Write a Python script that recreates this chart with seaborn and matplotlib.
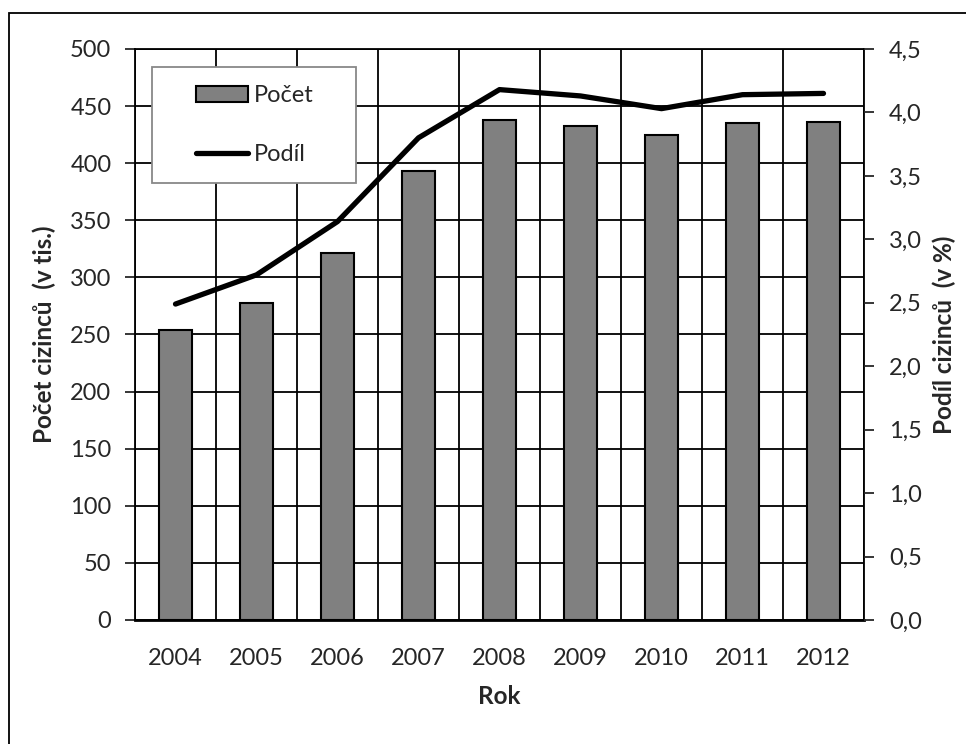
import numpy as np
import pandas as pd
import matplotlib
matplotlib.use("Agg")
import matplotlib.pyplot as plt
from matplotlib.patches import Rectangle, Patch
from matplotlib.lines import Line2D
import seaborn as sns

years = ["2004", "2005", "2006", "2007", "2008", "2009", "2010", "2011", "2012"]
counts = [254, 278, 321, 393, 438, 433, 425, 435, 436]
share = [2.49, 2.72, 3.14, 3.80, 4.18, 4.13, 4.03, 4.14, 4.15]
left_ticks = [0, 50, 100, 150, 200, 250, 300, 350, 400, 450, 500]
right_ticks = [0.0, 0.5, 1.0, 1.5, 2.0, 2.5, 3.0, 3.5, 4.0, 4.5]
right_labels = ["0,0", "0,5", "1,0", "1,5", "2,0", "2,5", "3,0", "3,5", "4,0", "4,5"]

sns.set_style("white")
plt.rcParams["font.family"] = ["Lato", "DejaVu Sans"]

FS = 17
LFS = 17.5

df = pd.DataFrame({"Rok": years, "Pocet": counts, "Podil": share})

W, H = 966, 744
fig = plt.figure(figsize=(W / 100, H / 100), dpi=100)
ax = fig.add_axes([135 / W, 1 - 620 / H, (864 - 135) / W, (620 - 49) / H])

# figure frame (only top and left edges visible in the reference)
fig.patches.append(Rectangle((9 / W, -0.1), 1.2, 1 - 13 / H + 0.1, transform=fig.transFigure,
                             fill=False, edgecolor="black", linewidth=1.3, zorder=0))

sns.barplot(data=df, x="Rok", y="Pocet", ax=ax, color="#808080", saturation=1,
            edgecolor="black", linewidth=1.5, width=0.4, zorder=3)
ax.set_xlim(-0.5, len(years) - 0.5)
ax.set_ylim(0, 500)
ax.set_yticks(left_ticks)
ax.set_yticklabels([str(t) for t in left_ticks])

# grid: horizontal at left ticks, vertical at category boundaries
ax.set_xticks(np.arange(-0.5, len(years), 1.0), minor=True)
ax.grid(True, which="major", axis="y", color="black", linewidth=1.3, zorder=0)
ax.grid(True, which="minor", axis="x", color="black", linewidth=1.3, zorder=0)
ax.set_axisbelow(True)
ax.tick_params(axis="x", which="both", length=0, pad=20, labelsize=FS)
ax.tick_params(axis="y", which="major", length=7, width=1.3, pad=10, labelsize=FS, direction="out")

for s in ["top", "left", "right"]:
    ax.spines[s].set_color("black")
    ax.spines[s].set_linewidth(1.3)
ax.spines["bottom"].set_color("black")
ax.spines["bottom"].set_linewidth(2)

ax.set_xlabel("Rok", fontsize=LFS, fontweight="bold")
ax.set_ylabel("Počet cizinců  (v tis.)", fontsize=LFS, fontweight="bold")
ax.xaxis.set_label_coords(0.5, (620 - 697) / 571)
ax.xaxis.label.set_va("center")
ax.yaxis.set_label_coords((44 - 135) / 729, 0.5)
ax.yaxis.label.set_va("center")

ax2 = ax.twinx()
sns.lineplot(data=df, x="Rok", y="Podil", ax=ax2, color="black", linewidth=3.8,
             solid_capstyle="round", zorder=5)
ax2.set_ylim(0, 4.5)
ax2.set_yticks(right_ticks)
ax2.set_yticklabels(right_labels)
ax2.tick_params(axis="y", length=7, width=1.3, pad=11, labelsize=FS, direction="out")
ax2.grid(False)
for s in ax2.spines.values():
    s.set_visible(False)
ax2.set_ylabel("Podíl cizinců  (v %)", fontsize=LFS, fontweight="bold")
ax2.yaxis.set_label_coords((944 - 135) / 729, 0.5)
ax2.yaxis.label.set_va("center")
ax2.yaxis.label.set_rotation(90)
ax2.set_xlabel("Rok", fontsize=LFS, fontweight="bold")
ax2.xaxis.set_label_coords(0.5, (620 - 697) / 571)
ax2.xaxis.label.set_va("center")

# legend box
x0 = (152 - 135) / 729
y0 = (620 - 183) / 571
ax2.add_patch(Rectangle((x0, y0), (356 - 152) / 729, (183 - 67) / 571, transform=ax2.transAxes,
                        facecolor="white", edgecolor="#888888", linewidth=1.3, zorder=10,
                        clip_on=False))
handles = [Patch(facecolor="#808080", edgecolor="black", linewidth=1.5, label="Počet"),
           Line2D([0], [0], color="black", linewidth=3.8, solid_capstyle="round", label="Podíl")]
leg = ax2.legend(handles=handles, loc="upper left",
                 bbox_to_anchor=((196 - 135) / 729, (620 - 85) / 571),
                 frameon=False, borderpad=0, borderaxespad=0, handlelength=2.2,
                 handleheight=0.68, handletextpad=0.25, labelspacing=1.62, fontsize=FS)
leg.set_zorder(11)

fig.savefig("out.png", dpi=100)
